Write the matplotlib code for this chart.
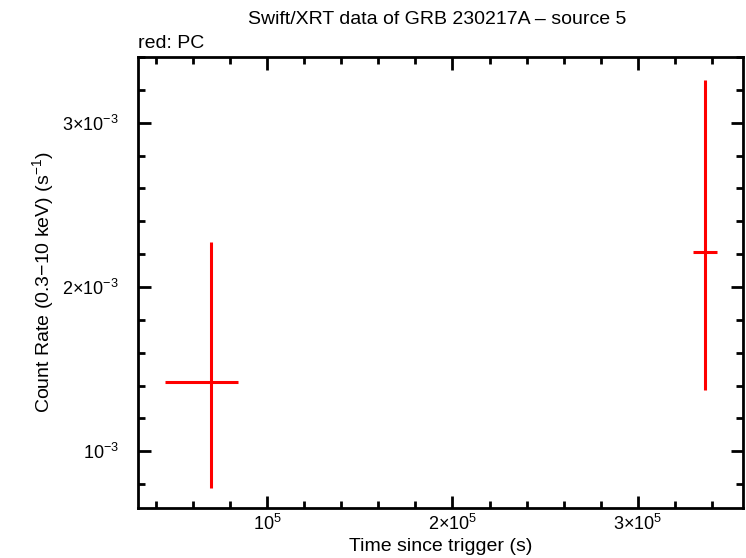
import matplotlib
matplotlib.use("Agg")
import matplotlib.pyplot as plt
from matplotlib.ticker import FixedLocator, MultipleLocator

# PC mode data points
time = [6.98e4, 3.361e5]
time_lo = [4.50e4, 3.296e5]
time_hi = [8.44e4, 3.426e5]
rate = [1.424e-3, 2.212e-3]
rate_lo = [0.776e-3, 1.376e-3]
rate_hi = [2.273e-3, 3.261e-3]

xticks = [1e5, 2e5, 3e5]
xlabels = [r"$10^5$", r"$2{\times}10^5$", r"$3{\times}10^5$"]
yticks = [1e-3, 2e-3, 3e-3]
ylabels = [r"$10^{-3}$", r"$2{\times}10^{-3}$", r"$3{\times}10^{-3}$"]


def main():
    plt.rcParams['font.family'] = ['Liberation Sans', 'DejaVu Sans']
    plt.rcParams['mathtext.fontset'] = 'custom'
    plt.rcParams['mathtext.rm'] = 'Liberation Sans'
    plt.rcParams['mathtext.it'] = 'Liberation Sans'

    fig = plt.figure(figsize=(7.46, 5.58), dpi=100)
    ax = fig.add_axes([138 / 746, 1 - 508 / 558, 605 / 746, 451 / 558])

    xerr = [[t - lo for t, lo in zip(time, time_lo)],
            [hi - t for t, hi in zip(time, time_hi)]]
    yerr = [[r - lo for r, lo in zip(rate, rate_lo)],
            [hi - r for r, hi in zip(rate, rate_hi)]]
    ax.errorbar(time, rate, xerr=xerr, yerr=yerr, fmt='none',
                ecolor='red', elinewidth=2.2, capsize=0)

    ax.set_xlim(0.305e5, 3.566e5)
    ax.set_ylim(0.655e-3, 3.4e-3)

    ax.xaxis.set_major_locator(FixedLocator(xticks))
    ax.set_xticklabels(xlabels)
    ax.xaxis.set_minor_locator(MultipleLocator(2e4))
    ax.yaxis.set_major_locator(FixedLocator(yticks))
    ax.set_yticklabels(ylabels)
    ax.yaxis.set_minor_locator(MultipleLocator(2e-4))

    ax.tick_params(which='both', direction='in', top=True, right=True,
                   width=2, labelsize=13)
    ax.tick_params(axis='x', pad=4)
    ax.tick_params(axis='y', pad=14)
    ax.tick_params(which='major', length=9)
    ax.tick_params(which='minor', length=5)
    for spine in ax.spines.values():
        spine.set_linewidth(2)

    ax.set_xlabel("Time since trigger (s)", fontsize=14, labelpad=3)
    ax.set_ylabel("Count Rate (0.3$-$10 keV) (s$^{-1}$)", fontsize=14,
                  labelpad=4)
    fig.text(437 / 746, 1 - 20 / 558, "Swift/XRT data of GRB 230217A \u2013 source 5",
             ha='center', va='center', fontsize=14)
    fig.text(138 / 746, 1 - 43 / 558, "red: PC", ha='left', va='center',
             fontsize=14)

    fig.savefig("out.png", dpi=100)


if __name__ == "__main__":
    main()
